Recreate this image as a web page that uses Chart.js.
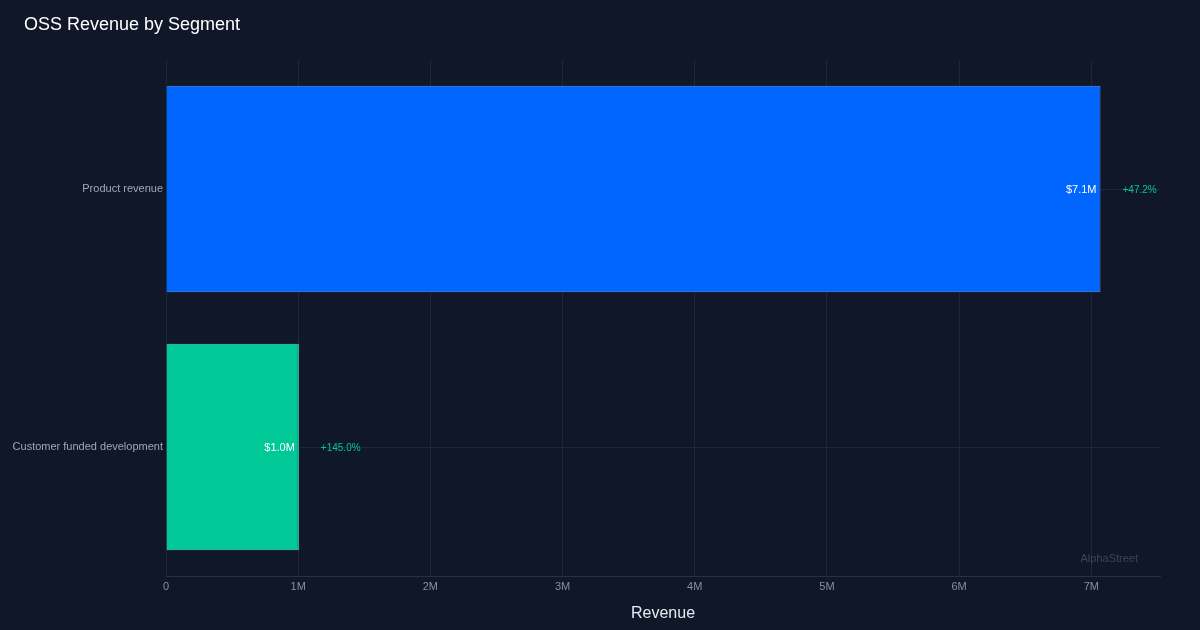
<!DOCTYPE html>
<html>
<head>
<meta charset="utf-8">
<script src="https://cdn.jsdelivr.net/npm/chart.js@4/dist/chart.umd.min.js"></script>
<style>
  html, body { margin: 0; padding: 0; background: #0f1729; }
  #wrap { width: 1200px; height: 630px; position: relative; }
</style>
</head>
<body>
<div id="wrap"><canvas id="myChart"></canvas></div>
<script>
var segments = ["Product revenue", "Customer funded development"];
var revenue = [7.07, 1.005];          // $M
var growth = [47.2, 145.0];          // % year over year
var barColors = ["#0066ff", "#00c896"];
var borderColors = ["#4d94ff", "#4dd9b5"];
var xTicks = [0, 1, 2, 3, 4, 5, 6, 7];

var FONT = "Liberation Sans, Arial, sans-serif";
Chart.defaults.font.family = FONT;

// title, value + growth labels next to bar ends, watermark
var barLabels = {
  id: "barLabels",
  afterDatasetsDraw: function(chart) {
    var ctx = chart.ctx;
    var meta = chart.getDatasetMeta(0);
    ctx.save();
    ctx.textBaseline = "middle";
    meta.data.forEach(function(bar, i) {
      ctx.font = "11px " + FONT;
      ctx.fillStyle = "#ffffff";
      ctx.textAlign = "right";
      ctx.fillText("$" + revenue[i].toFixed(1) + "M", bar.x - 4, bar.y + 1);
      ctx.font = "10px " + FONT;
      ctx.fillStyle = "#00c896";
      ctx.textAlign = "left";
      ctx.fillText("+" + growth[i].toFixed(1) + "%", bar.x + 22, bar.y + 1);
    });
    var area = chart.chartArea;
    ctx.font = "11px " + FONT;
    ctx.fillStyle = "#3b4658";
    ctx.textAlign = "right";
    ctx.fillText("AlphaStreet", area.right - 22, area.bottom - 17);

    ctx.font = "18px " + FONT;
    ctx.fillStyle = "#ffffff";
    ctx.textAlign = "left";
    ctx.fillText("OSS Revenue by Segment", 24, 25);
    ctx.restore();
  }
};

new Chart("myChart", {
  type: "bar",
  data: {
    labels: segments,
    datasets: [{
      data: revenue,
      backgroundColor: barColors,
      borderColor: borderColors,
      borderWidth: 1,
      barPercentage: 1,
      categoryPercentage: 0.8
    }]
  },
  options: {
    indexAxis: "y",
    responsive: true,
    maintainAspectRatio: false,
    animation: false,
    layout: { padding: { left: 0, right: 40, top: 60, bottom: 0 } },
    plugins: {
      legend: { display: false },
      tooltip: { enabled: false },
      title: { display: false }
    },
    scales: {
      x: {
        min: 0,
        max: 7.52,
        afterBuildTicks: function(scale) {
          scale.ticks = xTicks.map(function(v) { return { value: v }; });
        },
        afterFit: function(scale) { scale.height = 54; },
        ticks: {
          color: "#8590a0",
          font: { size: 11 },
          padding: 4,
          callback: function(v) { return v === 0 ? "0" : v + "M"; }
        },
        grid: { color: "#1d2738", drawTicks: false },
        border: { color: "#263142" },
        title: {
          display: true,
          text: "Revenue",
          color: "#e8ecf2",
          font: { size: 16 },
          padding: { top: 8, bottom: 7 }
        }
      },
      y: {
        afterFit: function(scale) { scale.width = 166; },
        ticks: { color: "#a0a8b6", font: { size: 11 }, padding: 3 },
        grid: { color: "#1d2738", drawTicks: false, offset: false },
        border: { display: false }
      }
    }
  },
  plugins: [barLabels]
});
</script>
</body>
</html>
